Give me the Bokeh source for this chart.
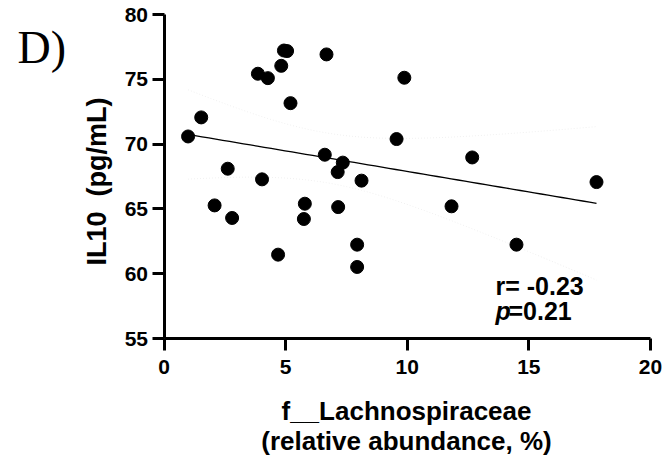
import numpy as np
from bokeh.plotting import figure
from bokeh.models import Range1d, Label, FixedTicker
from bokeh.embed import file_html
from bokeh.resources import INLINE

# relative abundance of f__Lachnospiraceae (%)
abundance = [0.99, 1.53, 2.62, 2.08, 2.80, 3.86, 4.27, 4.03, 4.82, 4.93, 5.06,
             5.20, 4.69, 5.79, 5.75, 6.68, 6.61, 7.35, 7.14, 7.16, 8.12, 7.94,
             7.94, 9.56, 9.88, 11.82, 12.67, 14.49, 17.78]
# IL10 (pg/mL)
il10 = [70.59, 72.06, 68.10, 65.27, 64.30, 75.43, 75.09, 67.28, 76.04, 77.22, 77.18,
        73.16, 61.47, 65.40, 64.22, 76.92, 69.18, 68.57, 67.84, 65.14, 67.18, 62.24,
        60.52, 70.39, 75.12, 65.20, 68.97, 62.24, 67.07]
x_ticks = [0, 5, 10, 15, 20]
y_ticks = [55, 60, 65, 70, 75, 80]
x_lim = (0, 20)
y_lim = (55, 80)
r_text = "r= -0.23"
p_value = "=0.21"

FONT = "Liberation Sans"
W, H = 668, 460
# pixel box that the axes span inside the canvas
L_PX, R_PX, T_PX, B_PX = 163.5, 650.0, 14.0, 338.0
sx = (x_lim[1] - x_lim[0]) / (R_PX - L_PX)
sy = (y_lim[1] - y_lim[0]) / (B_PX - T_PX)

p = figure(width=W, height=H, output_backend="svg", toolbar_location=None,
           x_range=Range1d(x_lim[0] - L_PX * sx, x_lim[1] + (W - R_PX) * sx),
           y_range=Range1d(y_lim[0] - (H - B_PX) * sy, y_lim[1] + T_PX * sy),
           min_border=0, min_border_left=0, min_border_right=0,
           min_border_top=0, min_border_bottom=0)
p.outline_line_color = None
p.xgrid.visible = False
p.ygrid.visible = False
p.background_fill_color = "white"
p.border_fill_color = "white"

# regression and 95% confidence band
xa = np.array(abundance)
ya = np.array(il10)
slope, intercept = np.polyfit(xa, ya, 1)
xs = np.linspace(xa.min(), xa.max(), 60)
fit = slope * xs + intercept
n = len(xa)
resid = ya - (slope * xa + intercept)
s = np.sqrt(np.sum(resid ** 2) / (n - 2))
t = 2.052
se = s * np.sqrt(1 / n + (xs - xa.mean()) ** 2 / np.sum((xa - xa.mean()) ** 2))
p.line(xs, fit + t * se, line_color="#f0f0f0", line_width=1, line_dash="1 2")
p.line(xs, fit - t * se, line_color="#f0f0f0", line_width=1, line_dash="1 2")
p.line(xs, fit, line_color="black", line_width=1.3)

p.scatter(abundance, il10, size=13, fill_color="black", line_color="black")

xaxis = p.xaxis[0]
yaxis = p.yaxis[0]
xaxis.fixed_location = y_lim[0]
yaxis.fixed_location = x_lim[0]
xaxis.bounds = x_lim
yaxis.bounds = y_lim
for ax in (xaxis, yaxis):
    ax.axis_line_width = 3
    ax.axis_line_color = "black"
    ax.major_tick_line_width = 3
    ax.major_tick_line_color = "black"
    ax.major_tick_out = 12
    ax.major_tick_in = 0
    ax.minor_tick_line_color = None
    ax.major_label_text_font = FONT
    ax.major_label_text_font_style = "bold"
    ax.major_label_text_font_size = "21px"
    ax.major_label_text_color = "black"
xaxis.ticker = FixedTicker(ticks=x_ticks)
yaxis.ticker = FixedTicker(ticks=y_ticks)
xaxis.major_label_standoff = 9
yaxis.major_label_standoff = 4

style = dict(x_units="screen", y_units="screen", text_font=FONT, text_font_style="bold",
             text_color="black", text_baseline="alphabetic")
# screen positions: x from the left edge, y up from the bottom edge
p.add_layout(Label(x=96, y=H - 181, angle=np.pi / 2, text="IL10\u00a0 (pg/mL)",
                   text_align="center", text_font_size="27px", **style))
p.add_layout(Label(x=406, y=H - 410, text="f__Lachnospiraceae", text_align="center",
                   text_font_size="26px", **style))
p.add_layout(Label(x=406, y=H - 440, text="(relative abundance, %)", text_align="center",
                   text_font_size="26px", **style))
p.add_layout(Label(x=495, y=H - 285, text=r_text, text_align="left",
                   text_font_size="25px", **style))
p.add_layout(Label(x=495, y=H - 310, text="p", text_align="left", text_font_size="25px",
                   x_units="screen", y_units="screen", text_font=FONT,
                   text_font_style="bold italic", text_color="black",
                   text_baseline="alphabetic"))
p.add_layout(Label(x=508, y=H - 310, text=p_value, text_align="left",
                   text_font_size="25px", **style))
p.add_layout(Label(x=17, y=H - 47, text="D)", text_align="left",
                   x_units="screen", y_units="screen",
                   text_font="Liberation Serif", text_font_size="46px", text_color="black",
                   text_baseline="alphabetic"))

open("out.html", "w").write(file_html(p, INLINE))
